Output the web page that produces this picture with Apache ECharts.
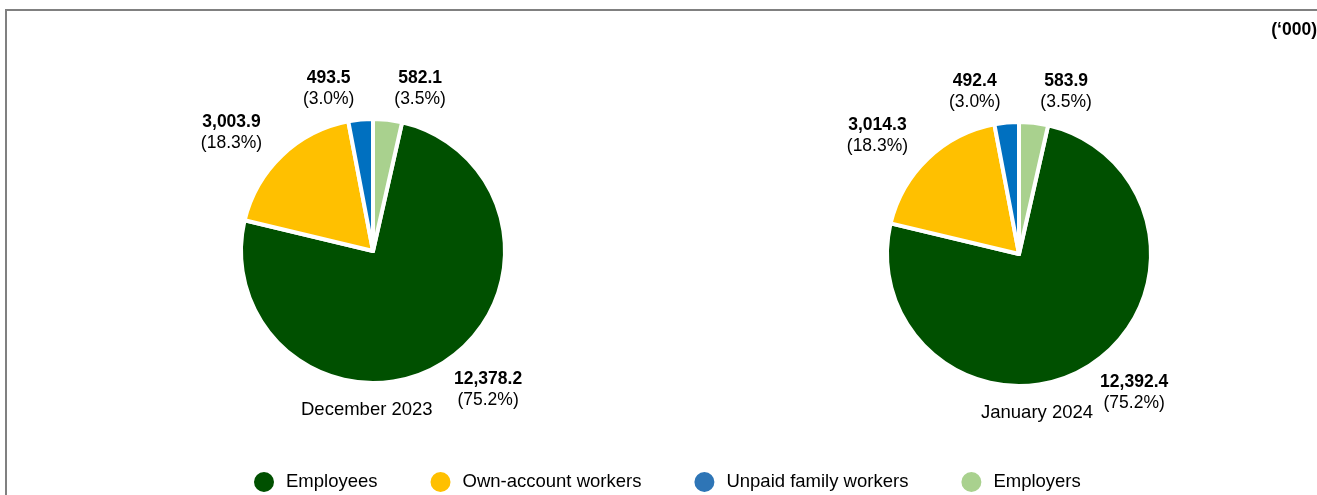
<!DOCTYPE html>
<html>
<head>
<meta charset="utf-8">
<script src="https://cdn.jsdelivr.net/npm/echarts@6/dist/echarts.min.js"></script>
<style>
  html, body { margin: 0; padding: 0; background: #fff; }
  #chart { width: 1317px; height: 495px; }
</style>
</head>
<body>
<div id="chart"></div>
<script>
const categories = ['Employees', 'Own-account workers', 'Unpaid family workers', 'Employers'];
const colors = ['#005000', '#FFC000', '#0070C0', '#A9D18E'];
const legendColors = ['#005000', '#FFC000', '#2E75B6', '#A9D18E'];
const periods = ['December 2023', 'January 2024'];
const dec2023 = [12378.2, 3003.9, 493.5, 582.1];
const jan2024 = [12392.4, 3014.3, 492.4, 583.9];
const unitLabel = '(\u2018000)';

const FONT = 'Liberation Sans, Arial';
const fmt = v => v.toLocaleString('en-US', { minimumFractionDigits: 1, maximumFractionDigits: 1 });

// Employers slice sits just right of 12 o'clock, so start the first slice after it
const startFor = values => {
  const total = values.reduce((a, b) => a + b, 0);
  return 90 - 360 * values[3] / total;
};

const makePie = (values, center) => ({
  type: 'pie',
  center: center,
  radius: 132,
  startAngle: startFor(values),
  clockwise: true,
  animation: false,
  itemStyle: { borderColor: '#fff', borderWidth: 4 },
  label: {
    show: true,
    position: 'outside',
    formatter: p => '{v|' + fmt(p.value) + '}\n{p|(' + p.percent.toFixed(1) + '%)}',
    rich: {
      v: { fontFamily: FONT, fontSize: 17.5, fontWeight: 'bold', color: '#000', width: 48, align: 'center', lineHeight: 21 },
      p: { fontFamily: FONT, fontSize: 17.5, color: '#000', width: 48, align: 'center', lineHeight: 21 }
    }
  },
  labelLine: { show: false, length: 31, length2: 0 },
  emphasis: { disabled: true },
  data: categories.map((name, i) => ({ name, value: values[i], itemStyle: { color: colors[i] } }))
});

const chart = echarts.init(document.getElementById('chart'));
chart.setOption({
  animation: false,
  graphic: [
    {
      type: 'rect',
      shape: { x: 6, y: 10, width: 1400, height: 600 },
      style: { fill: 'none', stroke: '#808080', lineWidth: 2 },
      silent: true
    },
    {
      type: 'text',
      right: 0,
      top: 21,
      style: { text: unitLabel, fontFamily: FONT, fontSize: 17.5, fontWeight: 'bold', fill: '#000' }
    },
    {
      type: 'text',
      left: 301,
      top: 400,
      style: { text: periods[0], fontFamily: FONT, fontSize: 18.5, fill: '#000' }
    },
    {
      type: 'text',
      left: 981,
      top: 403,
      style: { text: periods[1], fontFamily: FONT, fontSize: 18.5, fill: '#000' }
    }
  ],
  legend: {
    left: 247,
    top: 465,
    icon: 'circle',
    itemWidth: 22,
    itemHeight: 22,
    itemGap: 51,
    textStyle: { fontFamily: FONT, fontSize: 18.5, color: '#000', padding: [0, 0, 0, 6] },
    data: categories.map((name, i) => ({ name, itemStyle: { color: legendColors[i] } }))
  },
  series: [
    makePie(dec2023, [373, 251]),
    makePie(jan2024, [1019, 254])
  ]
});
</script>
</body>
</html>
